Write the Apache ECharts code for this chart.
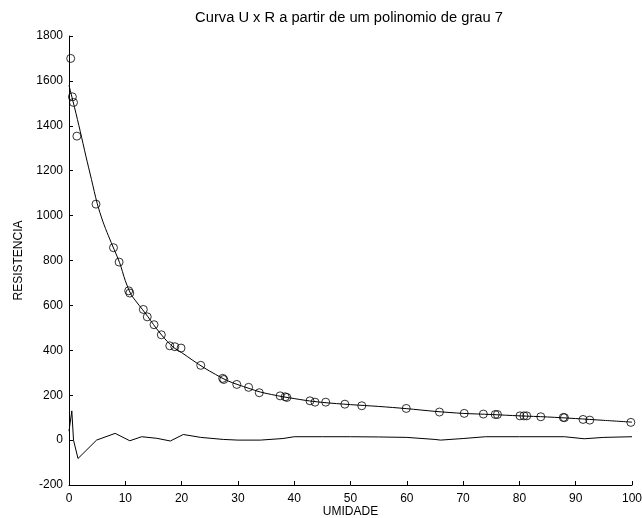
<!DOCTYPE html>
<html>
<head>
<meta charset="utf-8">
<script src="https://cdn.jsdelivr.net/npm/echarts@6/dist/echarts.min.js"></script>
<style>html,body{margin:0;padding:0;background:#fff}#c{width:642px;height:518px}</style>
</head>
<body>
<div id="c"></div>
<script>
// Data
var dataX = [0.3, 0.6, 0.8, 1.4, 4.8, 7.9, 8.9, 10.6, 10.8, 13.2, 13.9, 15.1, 16.4, 17.9, 18.8, 19.9, 23.4, 27.3, 27.5, 29.8, 31.9, 33.8, 37.5, 38.4, 38.7, 42.8, 43.7, 45.6, 49.0, 52.0, 59.9, 65.8, 70.2, 73.6, 75.7, 76.1, 80.1, 80.8, 81.3, 83.8, 87.8, 88.0, 91.3, 92.5, 99.8];
var dataY = [1700, 1529, 1504, 1354, 1051, 857, 793, 665, 655, 582, 549, 514, 469, 420, 416, 410, 333, 275, 270, 248, 235, 211, 197, 193, 190, 175, 169, 169, 160, 153, 141, 125, 119, 116, 114, 114, 108, 108, 108, 104, 101, 100, 92, 89, 79];
var fitX = [0, 1, 2, 3, 4, 5, 6, 7, 8, 9, 10, 11, 12, 13, 14, 15, 16, 17, 18, 19, 20, 22, 24, 26, 28, 30, 32, 34, 36, 38, 40, 42, 45, 50, 55, 60, 65, 70, 75, 80, 85, 90, 95, 100];
var fitY = [1580, 1480, 1375, 1265, 1160, 1055, 975, 910, 850, 790, 710, 650, 615, 583, 550, 515, 482, 452, 426, 405, 390, 355, 322, 293, 266, 247, 230, 214, 203, 193, 185, 177, 168, 158, 150, 140, 128, 119, 114, 108, 103, 96, 88, 80];
var resX = [0, 0.5, 0.8, 1.6, 4.9, 8.2, 10.8, 12.9, 15.6, 18.0, 20.3, 23.4, 27.4, 30, 34, 38, 40, 45, 50, 55, 60, 65, 66, 70, 74, 80, 88, 91.5, 95, 100];
var resY = [40, 130, 0, -82, 0, 30, -3, 15, 8, -4, 25, 12, 3, 0, 0, 7, 15, 15, 15, 14, 12, 3, 0, 7, 15, 15, 15, 6, 12, 15];
var yTicks = [-200, 0, 200, 400, 600, 800, 1000, 1200, 1400, 1600, 1800];
var xTicks = [0, 10, 20, 30, 40, 50, 60, 70, 80, 90, 100];

function pairs(a, b) { return a.map(function (v, i) { return [v, b[i]]; }); }

var chart = echarts.init(document.getElementById('c'), null, { renderer: 'canvas' });
var font = 'Liberation Sans, Arial, sans-serif';
chart.setOption({
  animation: false,
  backgroundColor: '#ffffff',
  title: {
    text: 'Curva U x R a partir de um polinomio de grau 7',
    left: 344, top: 5, textAlign: 'center',
    textStyle: { fontFamily: font, fontSize: 14.7, fontWeight: 'normal', color: '#000' }
  },
  grid: { left: 69, right: 10, top: 36, bottom: 33, containLabel: false, outerBoundsMode: 'none' },
  xAxis: {
    type: 'value', min: xTicks[0], max: xTicks[xTicks.length - 1], interval: 10,
    name: 'UMIDADE', nameLocation: 'middle', nameGap: 21, nameMoveOverlap: false,
    nameTextStyle: { fontFamily: font, fontSize: 12, color: '#000' },
    axisLine: { show: true, onZero: false, lineStyle: { color: '#000', width: 1 } },
    axisTick: { show: true, inside: true, length: 4, lineStyle: { color: '#000' } },
    axisLabel: { fontFamily: font, fontSize: 12, color: '#000', margin: 8, hideOverlap: false,
      formatter: function (v) { return String(v); } },
    splitLine: { show: false }
  },
  yAxis: {
    type: 'value', min: yTicks[0], max: yTicks[yTicks.length - 1], interval: 200,
    name: 'RESISTENCIA', nameLocation: 'middle', nameGap: 44, nameRotate: 90, nameMoveOverlap: false,
    nameTextStyle: { fontFamily: font, fontSize: 12, color: '#000' },
    axisLine: { show: true, onZero: false, lineStyle: { color: '#000', width: 1 } },
    axisTick: { show: true, inside: true, length: 4, lineStyle: { color: '#000' } },
    axisLabel: { fontFamily: font, fontSize: 12, color: '#000', margin: 6,
      formatter: function (v) { return String(v); } },
    splitLine: { show: false }
  },
  series: [
    {
      type: 'line', data: pairs(fitX, fitY), showSymbol: false, smooth: 0.3,
      lineStyle: { color: '#000', width: 1 }, z: 2
    },
    {
      type: 'scatter', data: pairs(dataX, dataY), symbol: 'circle', symbolSize: 8,
      itemStyle: { color: 'rgba(255,255,255,0)', borderColor: '#000', borderWidth: 1 }, z: 3
    },
    {
      type: 'line', data: pairs(resX, resY), showSymbol: false,
      lineStyle: { color: '#000', width: 1 }, z: 2
    }
  ]
});
</script>
</body>
</html>
